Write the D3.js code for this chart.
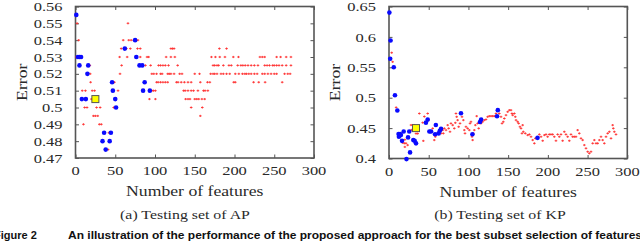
<!DOCTYPE html>
<html><head><meta charset="utf-8">
<script src="https://cdn.jsdelivr.net/npm/d3@7"></script>
<style>
html,body{margin:0;padding:0;background:#fff;}
svg{display:block;}
</style></head>
<body>
<svg id="chart" width="640" height="243"></svg>
<script>
// ---------- data ----------
const xTicks = [0, 50, 100, 150, 200, 250, 300];
const apYTicks = [0.47, 0.48, 0.49, 0.50, 0.51, 0.52, 0.53, 0.54, 0.55, 0.56];
const apYLabels = ["0.47","0.48","0.49","0.5","0.51","0.52","0.53","0.54","0.55","0.56"];
const kpYTicks = [0.40, 0.45, 0.50, 0.55, 0.60, 0.65];
const kpYLabels = ["0.4","0.45","0.5","0.55","0.6","0.65"];

// AP: red candidate points [features, error]
const apRed = [
  [2,0.55],[66,0.55],
  [4,0.54],[60,0.54],[67,0.54],[70,0.54],[73.5,0.54],[78.5,0.54],
  [57.5,0.535],[64,0.535],[69,0.535],[78,0.535],[81.5,0.535],[120,0.535],[122,0.535],[124,0.535],[181,0.535],[190,0.535],
  [1,0.53],[55.5,0.53],[65,0.53],[81.5,0.53],[90,0.53],[92,0.53],[114,0.53],[120,0.53],[125,0.53],[171,0.53],[176,0.53],[181.5,0.53],[188,0.53],[198.5,0.53],[205,0.53],[232,0.53],[235,0.53],[238,0.53],[253,0.53],[258,0.53],[265,0.53],[271,0.53],
  [18,0.525],[58,0.525],[88,0.525],[94.5,0.525],[104.5,0.525],[107,0.525],[110,0.525],[113,0.525],[117,0.525],[128.5,0.525],[173,0.525],[175,0.525],[178,0.525],[180,0.525],[186,0.525],[193,0.525],[196,0.525],[204,0.525],[208,0.525],[210.5,0.525],[213.5,0.525],[217,0.525],[221,0.525],[225,0.525],[229.5,0.525],[238,0.525],[241,0.525],[244,0.525],[248,0.525],[250,0.525],[253,0.525],[256,0.525],[260,0.525],[265,0.525],[271,0.525],
  [18.5,0.52],[56,0.52],[96,0.52],[98.5,0.52],[102,0.52],[107,0.52],[109,0.52],[116,0.52],[118,0.52],[120,0.52],[124,0.52],[131,0.52],[134,0.52],[150,0.52],[156,0.52],[170,0.52],[173,0.52],[175,0.52],[178,0.52],[183,0.52],[186,0.52],[190,0.52],[194,0.52],[201,0.52],[205.5,0.52],[210,0.52],[213,0.52],[215,0.52],[218,0.52],[221,0.52],[225,0.52],[228.5,0.52],[235,0.52],[238,0.52],[242,0.52],[246,0.52],[250,0.52],[253,0.52],[263,0.52],[267,0.52],[270,0.52],
  [19,0.515],[49,0.515],[102,0.515],[104,0.515],[107,0.515],[110,0.515],[113,0.515],[116,0.515],[127,0.515],[129,0.515],[133,0.515],[137,0.515],[141.5,0.515],[145.5,0.515],[157,0.515],[166,0.515],[169,0.515],[199,0.515],[201,0.515],[224,0.515],[230.5,0.515],[238.5,0.515],[260,0.515],
  [8.5,0.51],[12.5,0.51],[21,0.51],[24,0.51],[53.5,0.51],[96,0.51],[98,0.51],[100.5,0.51],[136,0.51],[138,0.51],[141.5,0.51],[145.5,0.51],[148.5,0.51],[154,0.51],[161,0.51],[163,0.51],[166.5,0.51],
  [20,0.505],[93,0.505],[100.5,0.505],[138.5,0.505],[141.5,0.505],[144,0.505],[150,0.505],[152.5,0.505],[155,0.505],[159,0.505],[162.5,0.505],
  [11.5,0.5],[14.5,0.5],[26.5,0.5],[31,0.5],[48,0.5],[145.5,0.5],[159.5,0.5],
  [22.5,0.495],[25,0.495],[28,0.495],[157,0.495],
  [10,0.49],[30,0.49],[32.5,0.49],
  [42,0.485],[41,0.475]
];
// AP: blue selected points
const apBlue = [
  [1,0.555],[3,0.53],[5,0.53],[7,0.53],[5,0.525],[16,0.525],[15,0.52],[8,0.505],[13,0.505],
  [36,0.485],[44.5,0.485],[34,0.48],[43,0.48],[38,0.475],[46,0.515],[47,0.51],[50,0.505],[51,0.5],
  [62,0.535],[75,0.54],[76.5,0.53],[80.5,0.525],[84,0.525],[87,0.515],[85,0.51],[93.5,0.51]
];
const apBest = [[25,0.505]];

// KP: red candidate points
const kpRed = [
  [3.4,0.574],[4.6,0.559],[9,0.484],[17,0.426],[19.3,0.425],[20,0.431],[21.4,0.425],[23,0.436],[23.5,0.422],[20,0.419],
  [27.7,0.455],[29.8,0.455],[31.9,0.455],[28.5,0.447],[34,0.441],[36.1,0.441],[38.2,0.474],[42.4,0.459],[43.2,0.429],[44.5,0.469],[48.7,0.474],[49.5,0.463],
  [55,0.4495],[57,0.4303],[58.3,0.4358],[61.3,0.4423],[65.5,0.4413],[67.6,0.4467],[68.4,0.4413],[69.7,0.4495],[71.8,0.4467],[73.9,0.4549],[75.1,0.4495],[76.8,0.444],[78,0.4577],[80.2,0.4549],[82.2,0.4495],[83.5,0.4587],[84.3,0.474],[85.2,0.4686],[86.4,0.4631],[87.7,0.4522],[89.4,0.4577],[91.9,0.4686],[93.6,0.4631],[94.8,0.4467],[95.7,0.4413],[96.9,0.4522],[99,0.4495],[101.1,0.4467],[102,0.4577],[103.2,0.4604],[104.5,0.4358],[105.3,0.4303],[106.2,0.4413],[107.4,0.4467],[108.7,0.4549],[110.4,0.4697],[111.6,0.4577],[112.9,0.4495],[115.8,0.4577],[117.9,0.4604],[120,0.4631],[122.1,0.4642],[124.2,0.4686],[126.3,0.4697],[128.4,0.4697],[130.5,0.4697],[132.6,0.4697],[134.7,0.474],[138.9,0.474],[141,0.4686],[142.3,0.4577],[143.9,0.4604],[145.2,0.4658],[147.3,0.4713],[149.4,0.4768],[151.5,0.4795],[153.6,0.4795],[154.8,0.474],[155.7,0.4713],[157.8,0.474],[159,0.4686],[159.9,0.4631],[162,0.4604],[163.2,0.4577],[164.9,0.4522],[166.2,0.4495],[167.4,0.4413],[168.3,0.4549],[169.1,0.444],[171.6,0.4413],[174.6,0.4385],[176.7,0.4396],[178.8,0.4358],[180.9,0.4303],[183,0.4249],[184.2,0.4331],[189.3,0.4396],[191.4,0.4358],[193.5,0.4292],[195.6,0.4385],[197.7,0.4396],[199.7,0.4358],[201.8,0.4396],[203.9,0.4396],[206,0.4396],[208.1,0.4358],[210.2,0.4292],[212.3,0.4396],[214.4,0.4358],[216.5,0.4396],[218.6,0.4292],[220.7,0.444],[222.8,0.4396],[224.9,0.4358],[227,0.4292],[229.1,0.4396],[231.2,0.4358],[233.3,0.4358],[235.4,0.4358],[237.5,0.4467],[239.6,0.4413],[241.7,0.4331],[243.8,0.4303],[245.9,0.4221],[248,0.4167],[250.1,0.4112],[252.2,0.4085],[254.3,0.4112],[256.4,0.4249],[258.5,0.4303],[260.6,0.4249],[262.7,0.4249],[264.8,0.4303],[266.9,0.4358],[269,0.4303],[271.1,0.4249],[273.2,0.4358],[275.3,0.4413],[277.4,0.444],[279.5,0.4331],[281.6,0.4549],[282.4,0.4495],[283.7,0.444],[285.8,0.4396]
];
const kpBlue = [
  [0.5,0.64],[2,0.594],[1.5,0.564],[6,0.55],[7.5,0.504],[10.5,0.479],[12,0.4402],[14,0.4402],[12.5,0.4358],[15,0.4385],[16.4,0.429],[18.5,0.4445],[22,0.399],[24,0.4347],[25.5,0.4445],[26.5,0.41],[30.6,0.4303],[32.3,0.4292],[34,0.4249],
  [46.5,0.459],[48.7,0.464],[50.8,0.4445],[53,0.4445],[58,0.44],[59,0.455],[62.5,0.4413],[64,0.4456],[65.5,0.4489],[90.6,0.4745],[105,0.44],[114.5,0.46],[116,0.464],[136,0.4695],[137,0.4795],[187,0.434]
];
const kpBest = [[34,0.45]];

const xLabel = "Number of features";
const yLabel = "Error";
const captions = ["(a) Testing set of AP", "(b) Testing set of KP"];
const figLabel = "Figure 2";
const figCaption = "An illustration of the performance of the proposed approach for the best subset selection of features";

// ---------- drawing ----------
const svg = d3.select("#chart");
const SERIF = "Liberation Serif, Times New Roman, serif";
const SX = 1.22; // horizontal stretch to mimic the wide TeX glyphs
const TXT = "#2a2a2a";

function panel(cfg) {
  const x = d3.scaleLinear().domain([0, 300]).range([cfg.left, cfg.right]);
  const y = d3.scaleLinear().domain(cfg.yDomain).range([cfg.bottom, cfg.top]);
  const g = svg.append("g");
  const axisColor = "#555";

  const tk = 3.5;
  const axes = [
    {gen: d3.axisBottom(x).tickValues(xTicks).tickSize(-tk).tickFormat(""), tr: `translate(0,${cfg.bottom})`},
    {gen: d3.axisTop(x).tickValues(xTicks).tickSize(-tk).tickFormat(""), tr: `translate(0,${cfg.top})`},
    {gen: d3.axisLeft(y).tickValues(cfg.yTicks).tickSize(-tk).tickFormat(""), tr: `translate(${cfg.left},0)`},
    {gen: d3.axisRight(y).tickValues(cfg.yTicks).tickSize(-tk).tickFormat(""), tr: `translate(${cfg.right},0)`}
  ];
  axes.forEach(a => {
    const ag = g.append("g").attr("transform", a.tr).call(a.gen);
    ag.select(".domain").remove();
    ag.selectAll("line").attr("stroke", axisColor).attr("stroke-width", 1);
  });
  g.append("rect")
    .attr("x", cfg.left).attr("y", cfg.top)
    .attr("width", cfg.right - cfg.left).attr("height", cfg.bottom - cfg.top)
    .attr("fill", "none").attr("stroke", axisColor).attr("stroke-width", 1.6);

  xTicks.forEach(v => {
    g.append("text")
      .attr("transform", `translate(${x(v)},${cfg.bottom + 17}) scale(${SX},1)`)
      .attr("text-anchor", "middle")
      .attr("font-family", SERIF).attr("font-size", 13.5).attr("fill", TXT)
      .text(v);
  });
  cfg.yTicks.forEach((v, i) => {
    g.append("text")
      .attr("transform", `translate(${cfg.left - 13},${y(v) + 4.6}) scale(${SX},1)`)
      .attr("text-anchor", "end")
      .attr("font-family", SERIF).attr("font-size", 13.5).attr("fill", TXT)
      .text(cfg.yLabels[i]);
  });

  g.append("text")
    .attr("transform", `translate(${(cfg.left + cfg.right) / 2},${cfg.bottom + 38}) scale(${SX},1)`)
    .attr("text-anchor", "middle")
    .attr("font-family", SERIF).attr("font-size", 14.5).attr("fill", TXT)
    .text(xLabel);
  g.append("text")
    .attr("transform", `translate(${cfg.yTitleX},${(cfg.top + cfg.bottom) / 2}) rotate(-90) scale(${SX},1)`)
    .attr("text-anchor", "middle")
    .attr("font-family", SERIF).attr("font-size", 14.5).attr("fill", TXT)
    .text(yLabel);

  const m = g.append("g");
  m.selectAll("path.red").data(cfg.red).join("path")
    .attr("class", "red")
    .attr("transform", d => `translate(${x(d[0])},${y(d[1])})`)
    .attr("d", "M-1.3,0H1.3M0,-1.1V1.1")
    .attr("stroke", "#ff3030").attr("stroke-width", 0.9);
  m.selectAll("circle.blue").data(cfg.blue).join("circle")
    .attr("class", "blue")
    .attr("cx", d => x(d[0])).attr("cy", d => y(d[1])).attr("r", 2.3)
    .attr("fill", "#0a0aff");
  m.selectAll("rect.best").data(cfg.best).join("rect")
    .attr("class", "best")
    .attr("x", d => x(d[0]) - 3.5).attr("y", d => y(d[1]) - 3.5)
    .attr("width", 7).attr("height", 7)
    .attr("fill", "#ffff00").attr("stroke", "#555").attr("stroke-width", 1);
}

panel({id: "a", left: 75.5, right: 314, top: 6.5, bottom: 158, yDomain: [0.47, 0.56],
  yTicks: apYTicks, yLabels: apYLabels, yTitleX: 27, red: apRed, blue: apBlue, best: apBest});
panel({id: "b", left: 389, right: 627.3, top: 6.5, bottom: 158.5, yDomain: [0.40, 0.65],
  yTicks: kpYTicks, yLabels: kpYLabels, yTitleX: 340, red: kpRed, blue: kpBlue, best: kpBest});

[[185, captions[0]], [500, captions[1]]].forEach(([cx, t]) => {
  svg.append("text")
    .attr("transform", `translate(${cx},219) scale(${SX},1)`)
    .attr("text-anchor", "middle")
    .attr("font-family", SERIF).attr("font-size", 13).attr("fill", TXT)
    .text(t);
});
svg.append("text")
  .attr("x", -6).attr("y", 239)
  .attr("font-family", "Liberation Sans, Arial, sans-serif").attr("font-weight", "bold")
  .attr("font-size", 11).attr("fill", "#111")
  .text(figLabel);
svg.append("text")
  .attr("x", 68).attr("y", 239)
  .attr("textLength", 574).attr("lengthAdjust", "spacingAndGlyphs")
  .attr("font-family", "Liberation Sans, Arial, sans-serif").attr("font-weight", "bold")
  .attr("font-size", 11).attr("fill", "#111")
  .text(figCaption);
</script>
</body></html>
